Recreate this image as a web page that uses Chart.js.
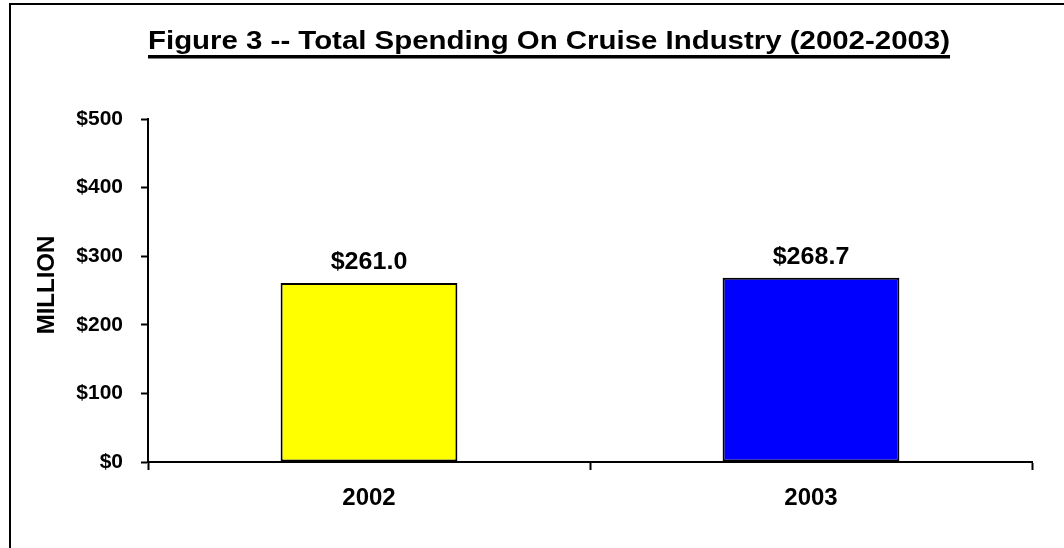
<!DOCTYPE html>
<html>
<head>
<meta charset="utf-8">
<script src="https://cdn.jsdelivr.net/npm/chart.js@4/dist/chart.umd.min.js"></script>
<style>
html,body{margin:0;padding:0;background:#fff;}
#wrap{width:1064px;height:548px;position:relative;}
</style>
</head>
<body>
<div id="wrap"><canvas id="c" width="1064" height="548"></canvas></div>
<script>
const categories = ["2002", "2003"];
const spending = [261.0, 268.7];
const barColors = ["#FFFF00", "#0000FF"];
const yTicks = [0, 100, 200, 300, 400, 500];
const titleText = "Figure 3 -- Total Spending On Cruise Industry (2002-2003)";
const yAxisTitle = "MILLION";

const FONT = "'Liberation Sans', Arial, Helvetica, sans-serif";

function stretchedText(ctx, text, x, y, sx) {
  ctx.save();
  ctx.translate(x, y);
  ctx.scale(sx, 1);
  ctx.fillText(text, 0, 0);
  ctx.restore();
}

const decorPlugin = {
  id: 'decor',
  beforeDraw(chart) {
    const ctx = chart.ctx;
    ctx.save();
    ctx.fillStyle = '#fff';
    ctx.fillRect(0, 0, chart.width, chart.height);
    ctx.strokeStyle = '#000';
    ctx.lineWidth = 2;
    ctx.strokeRect(10, 4, 1200, 700);
    // title
    ctx.font = "bold 26px " + FONT;
    ctx.fillStyle = '#000';
    ctx.textAlign = 'center';
    ctx.textBaseline = 'alphabetic';
    const tx = 549, ty = 49;
    const w = ctx.measureText(titleText).width;
    const targetW = 802;
    stretchedText(ctx, titleText, tx, ty, targetW / w);
    ctx.fillRect(tx - targetW / 2, 55, targetW, 3.5);
    // y axis title
    ctx.translate(47, 285);
    ctx.rotate(-Math.PI / 2);
    ctx.font = "bold 24px " + FONT;
    ctx.textBaseline = 'middle';
    ctx.fillText(yAxisTitle, 0, 0);
    ctx.restore();
  },
  afterDatasetsDraw(chart) {
    const ctx = chart.ctx;
    const meta = chart.getDatasetMeta(0);
    ctx.save();
    ctx.font = "bold 23px " + FONT;
    ctx.fillStyle = '#000';
    ctx.textAlign = 'center';
    ctx.textBaseline = 'alphabetic';
    meta.data.forEach((bar, i) => {
      stretchedText(ctx, '$' + spending[i].toFixed(1), bar.x, bar.y - 14, 1.09);
    });
    ctx.restore();
  }
};

new Chart(document.getElementById('c'), {
  type: 'bar',
  data: {
    labels: categories,
    datasets: [{
      data: spending,
      backgroundColor: barColors,
      borderColor: '#000',
      borderWidth: 2,
      borderSkipped: false,
      barPercentage: 0.4,
      categoryPercentage: 1.0
    }]
  },
  options: {
    responsive: false,
    animation: false,
    devicePixelRatio: 1,
    layout: { padding: { left: 0, top: 119, right: 32, bottom: 0 } },
    plugins: {
      legend: { display: false },
      title: { display: false },
      tooltip: { enabled: false }
    },
    scales: {
      x: {
        afterFit(scale) { scale.height = 86; },
        grid: {
          display: true,
          drawOnChartArea: false,
          drawTicks: true,
          tickLength: 8,
          tickWidth: 2,
          tickColor: '#000',
          offset: true
        },
        border: { display: true, color: '#000', width: 2 },
        ticks: {
          color: '#000',
          padding: 14,
          font: { family: FONT, size: 24, weight: 'bold' }
        }
      },
      y: {
        min: 0,
        max: 500,
        afterFit(scale) { scale.width = 148; },
        afterBuildTicks(scale) { scale.ticks = yTicks.map(v => ({ value: v })); },
        grid: {
          display: true,
          drawOnChartArea: false,
          drawTicks: true,
          tickLength: 7,
          tickWidth: 2,
          tickColor: '#000'
        },
        border: { display: true, color: '#000', width: 2 },
        ticks: {
          color: '#000',
          padding: 18,
          font: { family: FONT, size: 21, weight: 'bold' },
          callback: (v) => '$' + v
        }
      }
    }
  },
  plugins: [decorPlugin]
});
</script>
</body>
</html>
